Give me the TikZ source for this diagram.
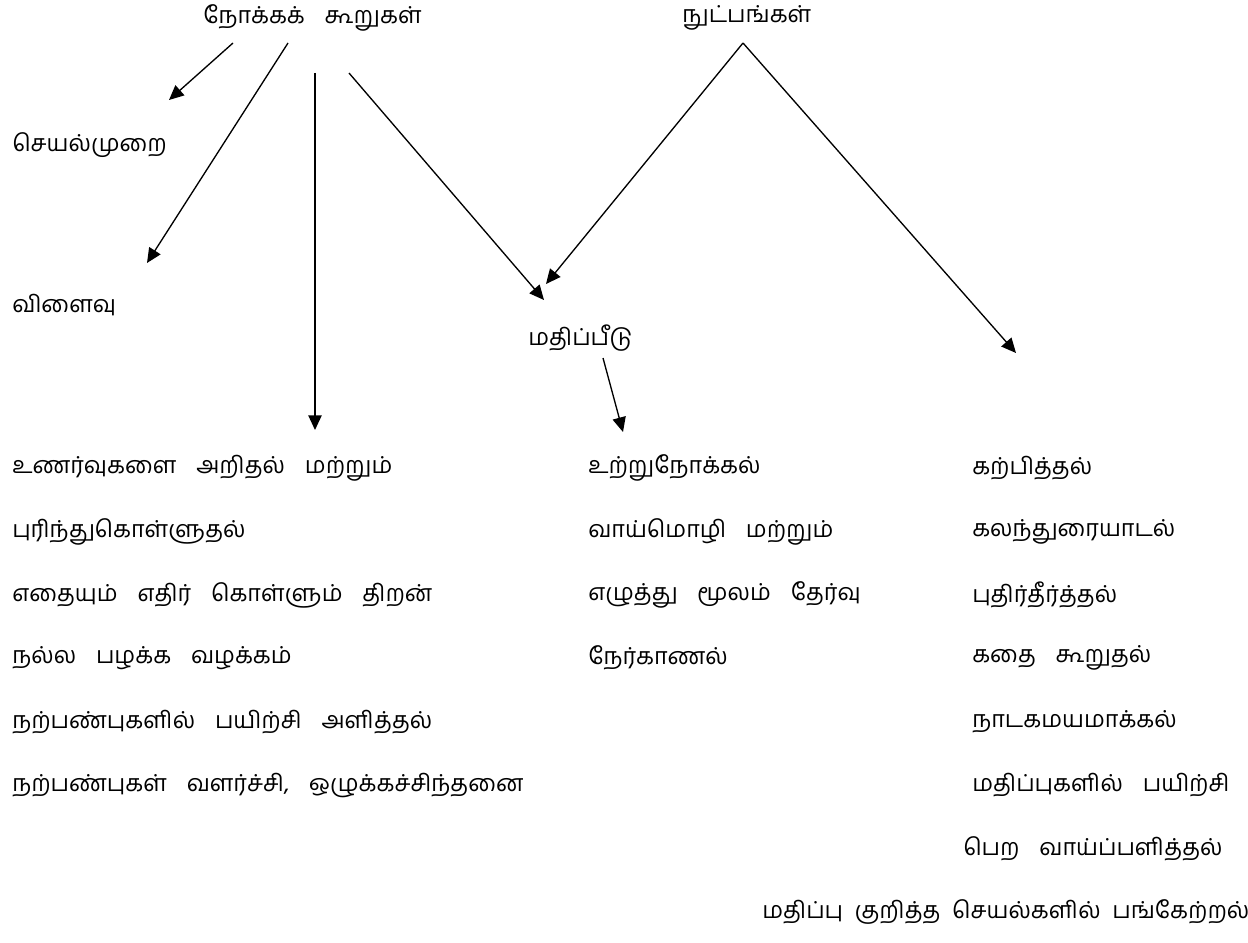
\documentclass[tikz,border=0pt]{standalone}
\usepackage{fontspec}
\newfontfamily\tamil[Script=Tamil]{Hind Madurai}
\usetikzlibrary{arrows.meta}
\newcommand\wsp{\hspace{0.85em}}
\newcommand\nsp{\hspace{0.5em}}
\tikzset{
  lbl/.style={inner sep=0pt, anchor=west, font=\tamil\fontsize{17.5}{20}\selectfont},
  conn/.style={line width=1pt, -{Triangle[length=11pt,width=10pt]}}
}
\begin{document}
\begin{tikzpicture}[x=0.75pt,y=-0.75pt]
\useasboundingbox (0,0) rectangle (1248,942);
% headings
\node[lbl] (obj) at (203,18) {நோக்கக்\wsp கூறுகள்};
\node[lbl] (tech) at (682,18) {நுட்பங்கள்};
\node[lbl] (proc) at (12,145) {செயல்முறை};
\node[lbl] (res) at (12,305) {விளைவு};
\node[lbl] (eval) at (528,338) {மதிப்பீடு};
% left column
\node[lbl] (l1) at (12,468) {உணர்வுகளை\wsp அறிதல்\wsp மற்றும்};
\node[lbl] (l2) at (12,532) {புரிந்துகொள்ளுதல்};
\node[lbl] (l3) at (12,595) {எதையும்\wsp எதிர்\wsp கொள்ளும்\wsp திறன்};
\node[lbl] (l4) at (12,658) {நல்ல\wsp பழக்க\wsp வழக்கம்};
\node[lbl] (l5) at (12,722) {நற்பண்புகளில்\wsp பயிற்சி\wsp அளித்தல்};
\node[lbl] (l6) at (12,785) {நற்பண்புகள்\wsp வளர்ச்சி,\wsp ஒழுக்கச்சிந்தனை};
% middle column
\node[lbl] (m1) at (588,468) {உற்றுநோக்கல்};
\node[lbl] (m2) at (588,532) {வாய்மொழி\wsp மற்றும்};
\node[lbl] (m3) at (588,595) {எழுத்து\wsp மூலம்\wsp தேர்வு};
\node[lbl] (m4) at (588,658) {நேர்காணல்};
% right column
\node[lbl] (r1) at (972,468) {கற்பித்தல்};
\node[lbl] (r2) at (972,532) {கலந்துரையாடல்};
\node[lbl] (r3) at (972,595) {புதிர்தீர்த்தல்};
\node[lbl] (r4) at (972,658) {கதை\wsp கூறுதல்};
\node[lbl] (r5) at (972,722) {நாடகமயமாக்கல்};
\node[lbl] (r6) at (972,785) {மதிப்புகளில்\wsp பயிற்சி};
\node[lbl] (r7) at (963,849) {பெற\wsp வாய்ப்பளித்தல்};
\node[lbl] (r8) at (762,912) {மதிப்பு\nsp குறித்த\nsp செயல்களில்\nsp பங்கேற்றல்};
% connector points
\coordinate (a1s) at (233,43);  \coordinate (a1e) at (169,100);
\coordinate (a2s) at (288,43);  \coordinate (a2e) at (147,263);
\coordinate (a3s) at (315,73);  \coordinate (a3e) at (315,430);
\coordinate (a4s) at (349,73);  \coordinate (a4e) at (544,300);
\coordinate (apex) at (743,43);
\coordinate (a5e) at (546,284);
\coordinate (a6e) at (1016,353);
\coordinate (a7s) at (603,358); \coordinate (a7e) at (623,432);
% connectors
\draw[conn] (a1s) -- (a1e);
\draw[conn] (a2s) -- (a2e);
\draw[conn] (a3s) -- (a3e);
\draw[conn] (a4s) -- (a4e);
\draw[conn] (apex) -- (a5e);
\draw[conn] (apex) -- (a6e);
\draw[conn] (a7s) -- (a7e);
\end{tikzpicture}
\end{document}
